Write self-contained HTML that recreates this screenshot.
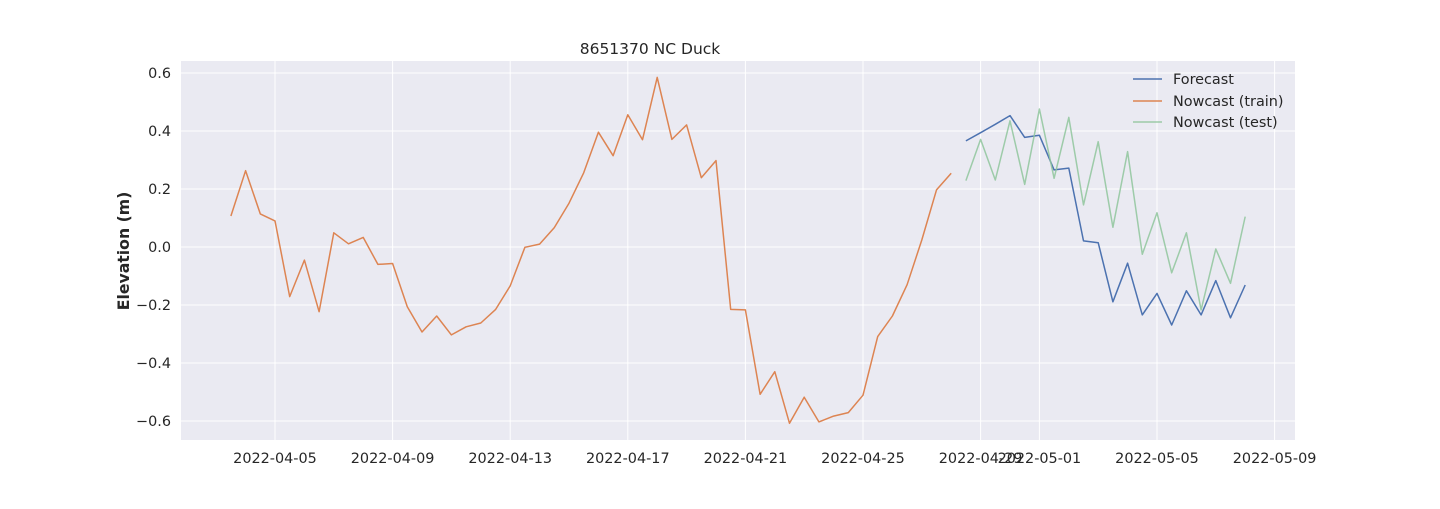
<!DOCTYPE html>
<html><head><meta charset="utf-8">
<style>
body{margin:0;background:#fff;font-family:"Liberation Sans","DejaVu Sans",sans-serif;}
svg text{font-family:"DejaVu Sans","Liberation Sans",sans-serif;fill:#262626;}
</style></head>
<body>
<svg id="chart" width="1440" height="504">
<rect x="181" y="61" width="1114" height="379" fill="#eaeaf2"/>
<g id="grid"></g><g id="series"></g><g id="axes"></g>
<text x="650" y="54" text-anchor="middle" font-size="15.5">8651370 NC Duck</text>
<text transform="translate(129,251) rotate(-90)" text-anchor="middle" font-size="15.7" font-weight="bold">Elevation (m)</text>
<g>
<line x1="1133" y1="79" x2="1162" y2="79" stroke="#4c72b0" stroke-width="1.5"/>
<text x="1173" y="84" font-size="14.4">Forecast</text>
<line x1="1133" y1="101" x2="1162" y2="101" stroke="#dd8452" stroke-width="1.5"/>
<text x="1173" y="106" font-size="14.4">Nowcast (train)</text>
<line x1="1133" y1="122" x2="1162" y2="122" stroke="#8fc59c" stroke-width="1.5" opacity="0.85"/>
<text x="1173" y="127" font-size="14.4">Nowcast (test)</text>
</g>
</svg>
<script>
const trainStart = -1.5;
const trainValues = [0.107,0.263,0.114,0.09,-0.171,-0.045,-0.223,0.049,0.011,0.033,-0.06,-0.057,-0.206,-0.293,-0.238,-0.303,-0.275,-0.262,-0.216,-0.134,-0.001,0.01,0.067,0.151,0.256,0.396,0.315,0.456,0.37,0.585,0.371,0.421,0.239,0.298,-0.215,-0.217,-0.508,-0.43,-0.608,-0.518,-0.603,-0.583,-0.571,-0.511,-0.309,-0.238,-0.13,0.024,0.197,0.254];
const testStart = 23.5;
const testValues = [0.229,0.371,0.231,0.435,0.216,0.476,0.237,0.447,0.145,0.363,0.068,0.329,-0.025,0.118,-0.089,0.049,-0.217,-0.007,-0.125,0.105];
const forecastValues = [0.366,0.394,0.423,0.453,0.378,0.385,0.266,0.272,0.021,0.015,-0.189,-0.056,-0.234,-0.16,-0.269,-0.151,-0.234,-0.116,-0.244,-0.131];
const yTicks = [0.6,0.4,0.2,0.0,-0.2,-0.4,-0.6];
const xTickDays = [0,4,8,12,16,20,24,26,30,34];
const xTickLabels = ["2022-04-05","2022-04-09","2022-04-13","2022-04-17","2022-04-21","2022-04-25","2022-04-29","2022-05-01","2022-05-05","2022-05-09"];
const step = 0.5;

const NS="http://www.w3.org/2000/svg";
const xs = d => 275 + 29.4*d;
const ys = v => 247 - 290*v;
const grid=document.getElementById('grid'), series=document.getElementById('series'), axes=document.getElementById('axes');
function mk(tag,attrs,parent){const e=document.createElementNS(NS,tag);for(const k in attrs)e.setAttribute(k,attrs[k]);parent.appendChild(e);return e;}
yTicks.forEach(v=>{
  const l=mk('line',{x1:181,x2:1295,y1:ys(v),y2:ys(v),stroke:'#fff','stroke-width':1},grid);
  
  
  const t=mk('text',{x:171,y:ys(v)+5,'text-anchor':'end','font-size':14.4},axes);
  t.textContent=(v<0?'\u2212':'')+Math.abs(v).toFixed(1);
  
  
});
xTickDays.forEach((d,i)=>{
  const l=mk('line',{x1:xs(d),x2:xs(d),y1:61,y2:440,stroke:'#fff','stroke-width':1},grid);
  
  
  const t=mk('text',{x:xs(d),y:463,'text-anchor':'middle','font-size':14.4},axes);
  t.textContent=xTickLabels[i];
  
  
});
function line(vals,start,color,name,op){
  const pts=vals.map((v,i)=>xs(start+i*step).toFixed(1)+','+ys(v).toFixed(1)).join(' ');
  const p=mk('polyline',{points:pts,fill:'none',stroke:color,'stroke-width':1.5,'stroke-linejoin':'round',opacity:op},series);
  
  
}
line(trainValues,trainStart,'#dd8452','nowcast-train-line',1);
line(forecastValues,testStart,'#4c72b0','forecast-line',1);
line(testValues,testStart,'#8fc59c','nowcast-test-line',0.85);
</script>
</body></html>
